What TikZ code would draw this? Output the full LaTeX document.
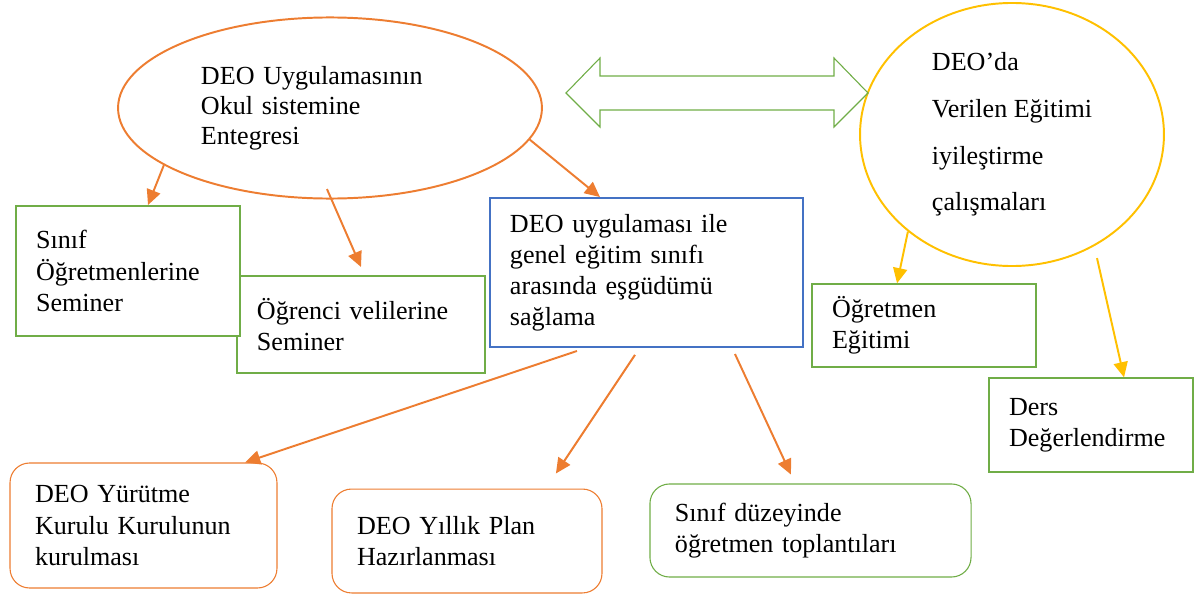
\documentclass[tikz,border=0pt]{standalone}
\usepackage{fontspec}
\setmainfont{Liberation Serif}
\usetikzlibrary{shapes.geometric,arrows.meta}
\definecolor{deoorange}{HTML}{ED7D31}
\definecolor{deogreen}{HTML}{70AD47}
\definecolor{deoblue}{HTML}{4472C4}
\definecolor{deoyellow}{HTML}{FFC000}
\tikzset{
  txt/.style={font=\fontsize{12}{14.3}\selectfont, align=left, inner ysep=0pt},
  sqbox/.style={txt, draw=deogreen, line width=0.9pt, fill=white, inner xsep=9.2pt},
  rbox/.style={txt, draw=deoorange, line width=0.5pt, rounded corners=9pt, inner xsep=11.5pt}
}
\begin{document}
\begin{tikzpicture}[x=0.46pt,y=-0.46pt,
  orangeline/.style={draw=deoorange,line width=0.9pt,-{Triangle[length=7pt,width=6.5pt]}},
  yellowline/.style={draw=deoyellow,line width=0.9pt,-{Triangle[length=7pt,width=6.5pt]}}]
\useasboundingbox (0,0) rectangle (1194,596);
% nodes
\node [ellipse, draw=deoorange, line width=0.9pt, minimum width=195pt, minimum height=83.3pt, inner sep=0pt, text width=118.7pt, align=left, font=\fontsize{12}{13.8}\selectfont] (integ) at (330,108) {DEO Uygulamasının\\Okul sistemine\\Entegresi};
\node [ellipse, draw=deoyellow, line width=0.9pt, minimum width=139.8pt, minimum height=121pt, inner sep=0pt, align=left, font=\fontsize{12}{21.5}\selectfont] (improve) at (1012,134.5) {DEO’da\\Verilen Eğitimi\\iyileştirme\\çalışmaları};

\node [sqbox, text width=95.7pt, minimum height=44.6pt] (parents) at (361,324.5) {Öğrenci velilerine\\Seminer};
\node [sqbox, text width=84.6pt, minimum height=59.8pt] (teachsem) at (128,271) {Sınıf\\Öğretmenlerine\\Seminer};
\node [sqbox, draw=deoblue, text width=125.6pt, minimum height=68.5pt] (coord) at (646.5,272.5) {DEO uygulaması ile\\genel eğitim sınıfı\\arasında eşgüdümü\\sağlama};
\node [sqbox, line width=0.6pt, text width=84.6pt, minimum height=38.2pt] (training) at (924,325.5) {Öğretmen\\Eğitimi};
\node [sqbox, line width=0.6pt, text width=75.4pt, minimum height=43.2pt] (lesson) at (1091,425) {Ders\\Değerlendirme};

\node [rbox, text width=99.8pt, minimum height=57.5pt] (board) at (143.5,525.5) {DEO Yürütme\\Kurulu Kurulunun\\kurulması};
\node [rbox, text width=101.2pt, minimum height=47.8pt] (plan) at (467,541) {DEO Yıllık Plan\\Hazırlanması};
\node [rbox, draw=deogreen, text width=124.7pt, minimum height=42.8pt] (meeting) at (810.5,530.5) {Sınıf düzeyinde\\öğretmen toplantıları};

% double arrow
\draw [deogreen, line width=0.5pt] (566,93) -- (600,58) -- (600,76) -- (834,76) -- (834,58) -- (868,93) -- (834,127) -- (834,110) -- (600,110) -- (600,127) -- cycle;

% arrows
\draw [orangeline] (integ.199) -- ([xshift=9.2pt]teachsem.north);
\draw [orangeline] ([xshift=-1.4pt,yshift=4.8pt]integ.south) -- ([yshift=3.7pt]parents.north);
\draw [orangeline] (integ.351) -- ([xshift=-21.4pt]coord.north);
\draw [orangeline] ([xshift=-32pt,yshift=-1.4pt]coord.south) -- ([xshift=46.7pt]board.north);
\draw [orangeline] ([xshift=-5.3pt,yshift=-3.2pt]coord.south) -- ([xshift=40.9pt,yshift=6.9pt]plan.north);
\draw [orangeline] ([xshift=40.7pt,yshift=-2.8pt]coord.south) -- ([xshift=-9pt,yshift=4.1pt]meeting.north);
\draw [yellowline] (improve.223) -- ([xshift=-12.4pt]training.north);
\draw [yellowline] ([xshift=39.1pt,yshift=4.1pt]improve.south) -- ([xshift=15.2pt]lesson.north);

\end{tikzpicture}
\end{document}
